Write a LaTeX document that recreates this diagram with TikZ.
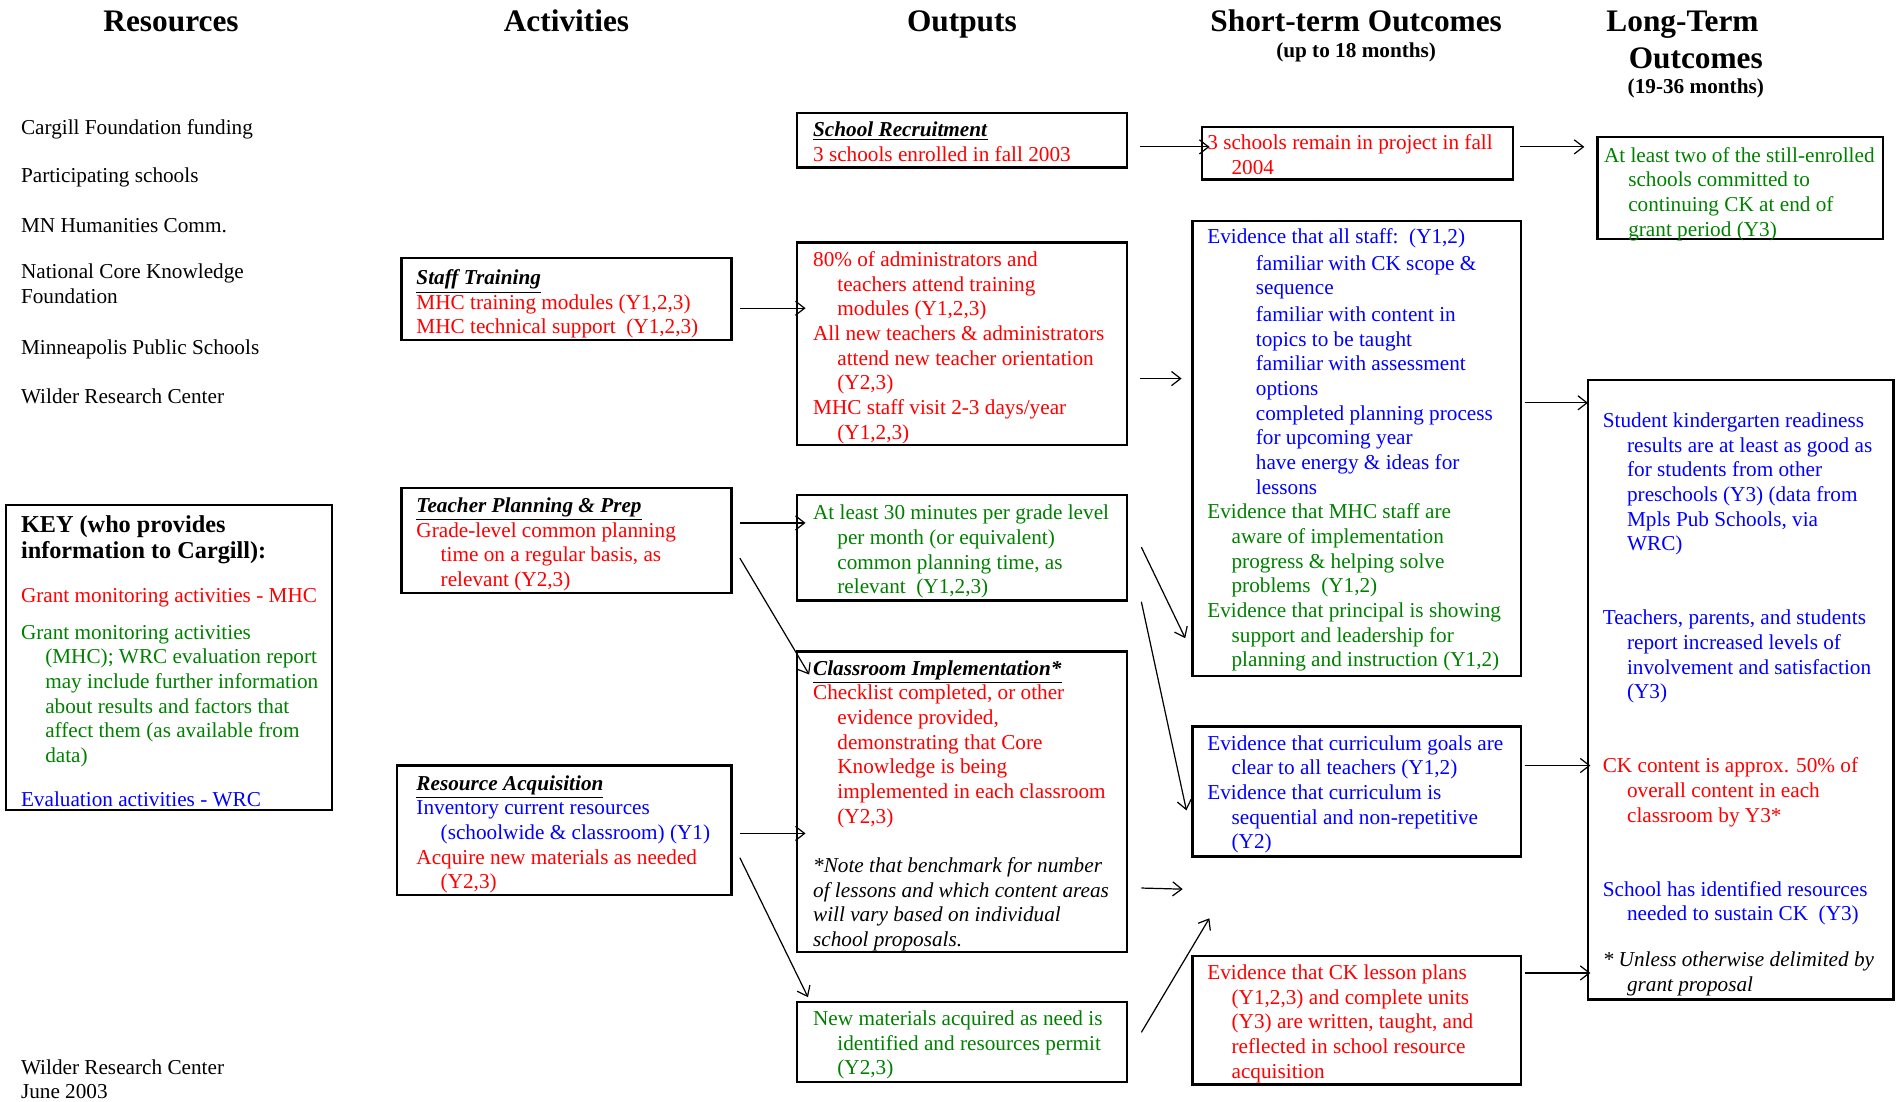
\documentclass[tikz,border=0pt]{standalone}
\usepackage{fontspec}
\setmainfont{Liberation Serif}
\usetikzlibrary{arrows.meta,fit}
\definecolor{mhc}{RGB}{255,0,0}
\definecolor{wrc}{RGB}{0,0,255}
\definecolor{both}{RGB}{0,128,0}
\newcommand{\ind}{\hspace*{12pt}}
\newcommand{\iind}{\hspace*{24pt}}
\newcommand{\ttl}[1]{\underline{\textbf{\textit{#1}}}}

\begin{document}
\begin{tikzpicture}[x=0.6pt,y=-0.6pt,
  box/.style={draw,line width=1.1pt,inner sep=0pt},
  txt/.style={anchor=north west,inner sep=0pt,align=left,yshift=-1.5pt,font=\fontsize{10.5}{12.2}\selectfont,execute at begin node=\strut},
  head/.style={font=\fontsize{15.5}{18}\selectfont\bfseries,text height=11pt,text depth=0pt},
  sub/.style={font=\fontsize{10.5}{12}\selectfont\bfseries},
  link/.style={-{Straight Barb[length=4.5pt,width=7pt]},line width=0.6pt}]
\useasboundingbox (0,0) rectangle (1568,908);

\node[head] (hres) at (141,17) {Resources};
\node[head] (hact) at (467,17) {Activities};
\node[head] (hout) at (793,17) {Outputs};
\node[head] (hst) at (1118,17) {Short-term Outcomes};
\node[sub] (hstsub) at (1118,43) {(up to 18 months)};
\node[head] (hlt) at (1387,17) {Long-Term};
\node[head] (hlt2) at (1398,47) {Outcomes};
\node[sub] (hltsub) at (1398,73) {(19-36 months)};

\node[txt] (cargill) at (17,93.5) {Cargill Foundation funding};
\node[txt] (schools) at (17,133.5) {Participating schools};
\node[txt] (mnhc) at (17,174.5) {MN Humanities Comm.};
\node[txt] (nckf) at (17,214.5) {National Core Knowledge\\Foundation};
\node[txt] (mps) at (17,275.5) {Minneapolis Public Schools};
\node[txt] (wilder) at (17,315.5) {Wilder Research Center};

\node[box,fit={(5,416)(274,668)}] (key) {};
\node[txt,font=\fontsize{12}{13.2}\selectfont\bfseries] (keyhead) at (17,422) {KEY (who provides\\information to Cargill):};
\node[txt,text=mhc] (keymhc) at (17,479.5) {Grant monitoring activities - MHC};
\node[txt,text=both] (keyboth) at (17,512.5) {Grant monitoring activities\\
  \ind(MHC); WRC evaluation report\\
  \ind may include further information\\
  \ind about results and factors that\\
  \ind affect them (as available from\\
  \ind data)};
\node[txt,text=wrc] (keywrc) at (17,647.5) {Evaluation activities - WRC};

\node[txt] (footer) at (17,870.5) {Wilder Research Center\\June 2003};

\node[box,fit={(331,213)(603,280)}] (stafftr) {};
\node[txt,text=mhc] at (343,219.5) {\textcolor{black}{\ttl{Staff Training}}\\
  MHC training modules (Y1,2,3)\\
  MHC technical support\ \ (Y1,2,3)};

\node[box,fit={(331,402)(603,489)}] (planprep) {};
\node[txt,text=mhc] at (343,407.5) {\textcolor{black}{\ttl{Teacher Planning \& Prep}}\\
  Grade-level common planning\\
  \ind time on a regular basis, as\\
  \ind relevant (Y2,3)};

\node[box,fit={(327,631)(603,738)}] (resacq) {};
\node[txt] at (343,636.5) {\ttl{Resource Acquisition}\\
  \textcolor{wrc}{Inventory current resources}\\
  \textcolor{wrc}{\ind(schoolwide \& classroom) (Y1)}\\
  \textcolor{mhc}{Acquire new materials as needed}\\
  \textcolor{mhc}{\ind(Y2,3)}};

\node[box,fit={(657,93)(929,138)}] (recruit) {};
\node[txt,text=mhc] at (670,97.5) {\textcolor{black}{\ttl{School Recruitment}}\\
  3 schools enrolled in fall 2003};

\node[box,fit={(657,200)(929,367)}] (staffout) {};
\node[txt,text=mhc] at (670,204.5) {80\% of administrators and\\
  \ind teachers attend training\\
  \ind modules (Y1,2,3)\\
  All new teachers \& administrators\\
  \ind attend new teacher orientation\\
  \ind(Y2,3)\\
  MHC staff visit 2-3 days/year\\
  \ind(Y1,2,3)};

\node[box,fit={(657,408)(929,495)}] (planout) {};
\node[txt,text=both] at (670,413.5) {At least 30 minutes per grade level\\
  \ind per month (or equivalent)\\
  \ind common planning time, as\\
  \ind relevant\ \ (Y1,2,3)};

\node[box,fit={(657,537)(929,785)}] (classimp) {};
\node[txt,text=mhc] at (670,541.5) {\textcolor{black}{\ttl{Classroom Implementation*}}\\
  Checklist completed, or other\\
  \ind evidence provided,\\
  \ind demonstrating that Core\\
  \ind Knowledge is being\\
  \ind implemented in each classroom\\
  \ind(Y2,3)\\[12.2pt]
  \textcolor{black}{\textit{*Note that benchmark for number}}\\
  \textcolor{black}{\textit{of lessons and which content areas}}\\
  \textcolor{black}{\textit{will vary based on individual}}\\
  \textcolor{black}{\textit{school proposals.}}};

\node[box,fit={(657,826)(929,892)}] (newmat) {};
\node[txt,text=both] at (670,830.5) {New materials acquired as need is\\
  \ind identified and resources permit\\
  \ind(Y2,3)};

\node[box,fit={(991,105)(1247,148)}] (remain) {};
\node[txt,text=mhc] at (995,108.5) {3 schools remain in project in fall\\
  \ind 2004};

\node[box,fit={(983,182)(1254,557)}] (evstaff) {};
\node[txt,text=wrc] at (995,185.5) {Evidence that all staff:\ \ (Y1,2)\\[1pt]
  \iind familiar with CK scope \&\\
  \iind sequence\\[1pt]
  \iind familiar with content in\\
  \iind topics to be taught\\
  \iind familiar with assessment\\
  \iind options\\
  \iind completed planning process\\
  \iind for upcoming year\\
  \iind have energy \& ideas for\\
  \iind lessons\\
  \textcolor{both}{Evidence that MHC staff are}\\
  \textcolor{both}{\ind aware of implementation}\\
  \textcolor{both}{\ind progress \& helping solve}\\
  \textcolor{both}{\ind problems\ \ (Y1,2)}\\
  \textcolor{both}{Evidence that principal is showing}\\
  \textcolor{both}{\ind support and leadership for}\\
  \textcolor{both}{\ind planning and instruction (Y1,2)}};

\node[box,fit={(983,599)(1254,706)}] (evcurr) {};
\node[txt,text=wrc] at (995,603.5) {Evidence that curriculum goals are\\
  \ind clear to all teachers (Y1,2)\\
  Evidence that curriculum is\\
  \ind sequential and non-repetitive\\
  \ind(Y2)};

\node[box,fit={(983,788)(1254,894)}] (evplans) {};
\node[txt,text=mhc] at (995,792.5) {Evidence that CK lesson plans\\
  \ind(Y1,2,3) and complete units\\
  \ind(Y3) are written, taught, and\\
  \ind reflected in school resource\\
  \ind acquisition};

\node[box,fit={(1317,113)(1552,197)}] (commit) {};
\node[txt,text=both] at (1322,118.5) {At least two of the still-enrolled\\
  \ind schools committed to\\
  \ind continuing CK at end of\\
  \ind grant period (Y3)};

\node[box,fit={(1309,313)(1561,824)}] (longterm) {};
\node[txt,text=wrc] at (1321,337.5) {Student kindergarten readiness\\
  \ind results are at least as good as\\
  \ind for students from other\\
  \ind preschools (Y3) (data from\\
  \ind Mpls Pub Schools, via\\
  \ind WRC)\\[24.4pt]
  Teachers, parents, and students\\
  \ind report increased levels of\\
  \ind involvement and satisfaction\\
  \ind(Y3)\\[24.4pt]
  \textcolor{mhc}{CK content is approx. 50\% of}\\
  \textcolor{mhc}{\ind overall content in each}\\
  \textcolor{mhc}{\ind classroom by Y3*}\\[24.4pt]
  School has identified resources\\
  \ind needed to sustain CK\ \ (Y3)\\[10.5pt]
  \textcolor{black}{\textit{* Unless otherwise delimited by}}\\
  \textcolor{black}{\textit{\ind grant proposal}}};

\coordinate (gapA) at (975,733);
\coordinate (gapB) at (997,757);

\draw[link] ([shift={(10,29)}]recruit.north east) -- ([shift={(7,17)}]remain.north west);
\draw[link] ([shift={(5,17)}]remain.north east) -- ([shift={(-10,9)}]commit.north west);
\draw[link] ([shift={(6,42)}]stafftr.north east) -- ([shift={(8,55)}]staffout.north west);
\draw[link] ([shift={(10,113)}]staffout.north east) -- ([shift={(-8,131)}]evstaff.north west);
\draw[link] ([shift={(2,151)}]evstaff.north east) -- ([shift={(1,20)}]longterm.north west);
\draw[link] ([shift={(6,30)}]planprep.north east) -- ([shift={(8,24)}]planout.north west);
\draw[link] ([shift={(6,59)}]planprep.north east) -- ([shift={(11,20)}]classimp.north west);
\draw[link] ([shift={(11,44)}]planout.north east) -- ([shift={(-5,345)}]evstaff.north west);
\draw[link] ([shift={(11,89)}]planout.north east) -- ([shift={(-4,70)}]evcurr.north west);
\draw[link] ([shift={(6,57)}]resacq.north east) -- ([shift={(8,151)}]classimp.north west);
\draw[link] ([shift={(6,77)}]resacq.north east) -- ([shift={(10,-3)}]newmat.north west);
\draw[link] ([shift={(11,196)}]classimp.north east) -- (gapA);
\draw[link] ([shift={(11,26)}]newmat.north east) -- (gapB);
\draw[link] ([shift={(2,33)}]evcurr.north east) -- ([shift={(3,319)}]longterm.north west);
\draw[link] ([shift={(2,15)}]evplans.north east) -- ([shift={(3,490)}]longterm.north west);
\end{tikzpicture}
\end{document}
